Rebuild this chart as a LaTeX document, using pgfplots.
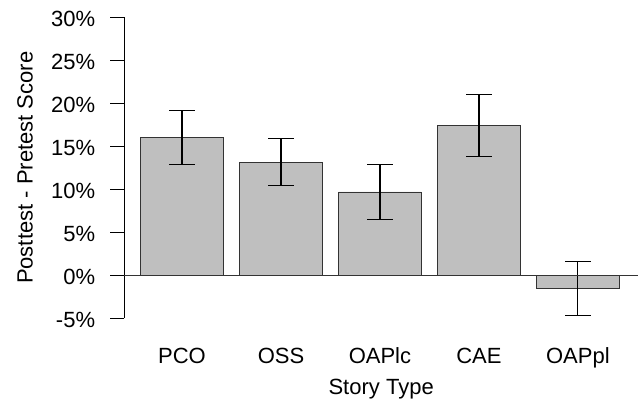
\documentclass[border=0pt]{standalone}
\usepackage{pgfplots}
\pgfplotsset{compat=1.18}
\usepackage{fontspec}
\setmainfont{Liberation Sans}
\begin{document}
\fontsize{22}{26}\selectfont
\begin{tikzpicture}
\useasboundingbox (-124.3pt,-85.7pt) rectangle (514.7pt,318.3pt);
\begin{axis}[
  at={(0,0)}, anchor=south west,
  scale only axis,
  width=513.7pt, height=301pt,
  xmin=0, xmax=6.229,
  ymin=-5, ymax=30,
  axis lines=left,
  separate axis lines,
  x axis line style={draw=none},
  y axis line style={-, line width=0.9pt, black},
  xtick={0.7,1.9,3.1,4.3,5.5},
  xticklabels={PCO,OSS,OAPlc,CAE,OAPpl},
  xtick style={draw=none},
  ytick={-5,0,5,10,15,20,25,30},
  yticklabels={-5\%,0\%,5\%,10\%,15\%,20\%,25\%,30\%},
  ytick style={line width=0.9pt, black},
  ytick align=outside,
  major tick length=14pt,
  tick label style={font=\fontsize{22}{26}\selectfont},
  yticklabel style={anchor=east, inner sep=0pt, xshift=-15pt, yshift=-1.5pt},
  xticklabel style={anchor=base, inner sep=0pt, yshift=-37.7pt},
  /pgf/number format/assume math mode=true,
  xlabel={Story Type},
  ylabel={Posttest - Pretest Score},
  label style={font=\fontsize{22}{26}\selectfont},
  xlabel style={at={(axis description cs:0.5,0)}, anchor=base, inner sep=0pt, yshift=-76.5pt},
  ylabel style={at={([xshift=-91.7pt]axis description cs:0,0.5)}, rotate=0, anchor=base, inner sep=0pt},
  clip=false,
]
\addplot[ybar, bar width=1, fill=black!25, draw=black!80, line width=0.9pt,
  error bars/.cd, y dir=both, y explicit,
  error bar style={line width=1.2pt, black},
  error mark options={rotate=90, line width=1.2pt, mark size=12.8pt, black}]
  coordinates {
  (0.7,16.0) +- (0,3.15)
  (1.9,13.17) +- (0,2.75)
  (3.1,9.69) +- (0,3.16)
  (4.3,17.4) +- (0,3.6)
  (5.5,-1.55) +- (0,3.17)
  };
\addplot[line width=0.9pt, black!80] coordinates {(0,0) (6.229,0)};
\end{axis}
\end{tikzpicture}
\end{document}
